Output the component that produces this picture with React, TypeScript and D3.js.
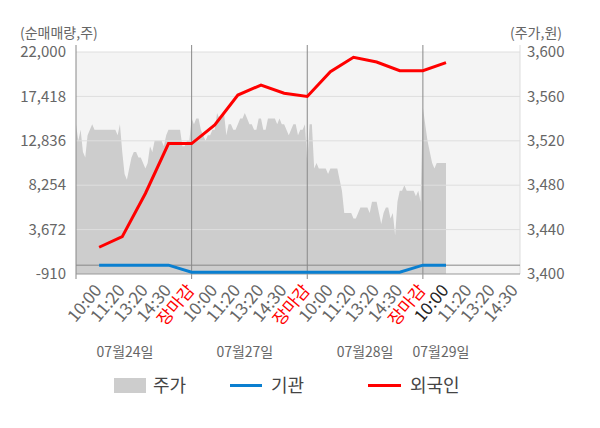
import * as d3 from "d3";

// 07월24일 ~ 07월29일, 외국인/기관 순매매량(주)과 주가(원)
const days = ["07월24일", "07월27일", "07월28일", "07월29일"];
const slotLabels = ["10:00", "11:20", "13:20", "14:30", "장마감"];

const leftTicks = [-910, 3672, 8254, 12836, 17418, 22000];
const rightTicks = [3400, 3440, 3480, 3520, 3560, 3600];

// 시간대별 (10:00, 11:20, 13:20, 14:30, 장마감) 누적 순매매량
const foreign = [1850, 2940, 7400, 12550, 12550, 14470, 17560, 18590, 17740, 17410, 19970, 21450, 20970, 20070, 20070, 20900];
const institution = [0, 0, 0, 0, -730, -730, -730, -730, -730, -730, -730, -730, -730, -730, 0, 0];

// 주가 (장중 일정 간격 샘플)
const price24 = [3535, 3520, 3530, 3510, 3505, 3525, 3530, 3535, 3530, 3530, 3530, 3530, 3530, 3530, 3530, 3530, 3530, 3530, 3525, 3535, 3510, 3490, 3485, 3495, 3505, 3510, 3510, 3505, 3505, 3500, 3495, 3500, 3515, 3510, 3520, 3520, 3520, 3520, 3515, 3525, 3530, 3530, 3530, 3530, 3530, 3530, 3515, 3515, 3520, 3520];
const price27 = [3540, 3535, 3540, 3540, 3530, 3525, 3520, 3525, 3525, 3530, 3530, 3545, 3540, 3540, 3545, 3525, 3535, 3535, 3530, 3530, 3535, 3540, 3540, 3545, 3540, 3535, 3535, 3530, 3530, 3540, 3540, 3530, 3530, 3540, 3540, 3540, 3540, 3535, 3540, 3535, 3535, 3530, 3525, 3530, 3535, 3535, 3525, 3530, 3530, 3535];
const price28 = [3500, 3535, 3535, 3495, 3500, 3495, 3495, 3495, 3495, 3490, 3495, 3495, 3495, 3495, 3485, 3475, 3455, 3455, 3455, 3455, 3450, 3450, 3455, 3460, 3460, 3460, 3460, 3455, 3465, 3465, 3465, 3455, 3445, 3455, 3460, 3460, 3450, 3455, 3435, 3465, 3475, 3475, 3480, 3475, 3475, 3475, 3475, 3470, 3475, 3465];
const price29 = [3550, 3535, 3520, 3510, 3500, 3495, 3500, 3500, 3500, 3500, 3500];

const prices = [price24, price27, price28, price29];

interface Pt { u: number; v: number; }

export default function App() {
    const width = 600;
    const height = 428;
    const left = 76;
    const right = 520;
    const top = 52;
    const bottom = 274;
    const slotsPerDay = 5;
    const font = "'Noto Sans CJK KR', 'Noto Sans', sans-serif";

    const x = d3.scaleLinear().domain([0, 19.2]).range([left, right]);
    const yL = d3.scaleLinear().domain([-910, 22000]).range([bottom, top]);
    const yR = d3.scaleLinear().domain([3400, 3600]).range([bottom, top]);

    const pricePts: Pt[] = prices.flatMap((arr, d) =>
        arr.map((v, k) => ({ u: d * slotsPerDay + k * 0.1, v })));
    const area = d3.area<Pt>()
        .x(p => x(p.u))
        .y0(bottom)
        .y1(p => yR(p.v));

    const line = d3.line<Pt>().x(p => x(p.u)).y(p => yL(p.v));
    const foreignPts = foreign.map((v, i) => ({ u: i + 1, v }));
    const instPts = institution.map((v, i) => ({ u: i + 1, v }));

    const ticks = days.flatMap((_, d) =>
        slotLabels.map((label, s) => ({ label, u: d * slotsPerDay + s + 1, d })))
        .filter(t => t.u <= 19.2);

    // 날짜 라벨 위치 (단위: 슬롯)
    const dateCenters = [2.12, 7.3, 12.5, 15.78];

    const gray = "#666";
    const fmt = (v: number) => v.toLocaleString("en-US");

    return (
        <svg width={width} height={height} style={{ position: "absolute", left: 0, top: 0 }}
            fontFamily={font}>
            <rect x={left} y={top} width={right - left} height={bottom - top} fill="#f4f4f4" />
            <path d={area(pricePts) ?? ""} fill="#cdcdcd" />
            {leftTicks.slice(1).map(t => (
                <line key={t} x1={left} x2={right} y1={yL(t)} y2={yL(t)} stroke="#dedede" strokeWidth={1} />
            ))}
            <line x1={right} x2={right} y1={45} y2={bottom} stroke="#dddddd" />
            <line x1={left} x2={right} y1={yL(0)} y2={yL(0)} stroke="#888" strokeWidth={1} />
            {[0, 1, 2, 3].map(d => (
                <line key={d} x1={x(d * slotsPerDay)} x2={x(d * slotsPerDay)} y1={45} y2={bottom + 5}
                    stroke="#888" strokeWidth={1} />
            ))}
            <line x1={left} x2={right} y1={bottom} y2={bottom} stroke="#999" />

            <path d={line(instPts) ?? ""} fill="none" stroke="#0a7fd0" strokeWidth={3} />
            <path d={line(foreignPts) ?? ""} fill="none" stroke="#ff0000" strokeWidth={3} />

            {leftTicks.map(t => (
                <text key={t} x={66} y={yL(t)} dy="0.35em" textAnchor="end" fontSize={15} fill={gray}>
                    {fmt(t)}
                </text>
            ))}
            {rightTicks.map(t => (
                <text key={t} x={527} y={yR(t)} dy="0.35em" textAnchor="start" fontSize={15} fill={gray}>
                    {fmt(t)}
                </text>
            ))}
            <text x={20} y={33} dy="0.35em" fontSize={14} fill={gray}>(순매매량,주)</text>
            <text x={562} y={33} dy="0.35em" textAnchor="end" fontSize={14} fill={gray}>(주가,원)</text>

            {ticks.map(t => (
                <text key={t.u} transform={`translate(${x(t.u) - 1},${bottom + 13}) rotate(-50)`}
                    textAnchor="end" dy="0.35em" fontSize={17}
                    fill={t.label === "장마감" ? "#ff0000" : t.d === 3 && t.label === "10:00" ? "#222" : gray}>
                    {t.label}
                </text>
            ))}
            {days.map((d, i) => (
                <text key={d} x={x(dateCenters[i])} y={352} dy="0.35em" textAnchor="middle" fontSize={14} fill={gray}>
                    {d}
                </text>
            ))}

            <g fontSize={18} fill="#444">
                <rect x={114} y={378} width={32} height={15} fill="#cdcdcd" />
                <text x={153} y={385.5} dy="0.35em">주가</text>
                <line x1={230} x2={262} y1={385.5} y2={385.5} stroke="#0a7fd0" strokeWidth={3} />
                <text x={271} y={385.5} dy="0.35em">기관</text>
                <line x1={368} x2={401} y1={385.5} y2={385.5} stroke="#ff0000" strokeWidth={3} />
                <text x={410} y={385.5} dy="0.35em">외국인</text>
            </g>
        </svg>
    );
}
